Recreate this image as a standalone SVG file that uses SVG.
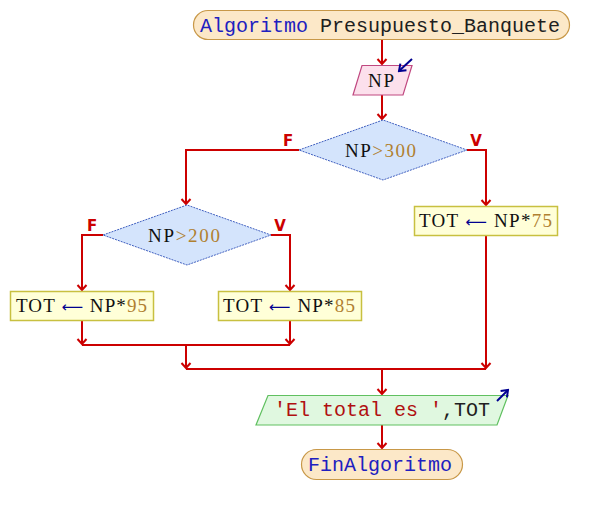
<svg xmlns="http://www.w3.org/2000/svg" width="596" height="515" viewBox="0 0 596 515">
<style>
.term{fill:#fce8c8;stroke:#c89848;stroke-width:1.2}
.inp{fill:#fce0ec;stroke:#c04880;stroke-width:1.2}
.dec{fill:#d4e4fc;stroke:#4060c0;stroke-width:1;stroke-dasharray:2 1}
.box{fill:#ffffd8;stroke:#c8c040;stroke-width:1.5}
.out{fill:#e0f8e0;stroke:#60c060;stroke-width:1.2}
.mono{font-family:"Liberation Mono","DejaVu Sans Mono",monospace;font-size:20px;fill:#202020}
.ser{font-family:"Liberation Serif","DejaVu Serif",serif;font-size:19px;fill:#101010}
.kw{fill:#2020c0}
.num{fill:#b08030}
.asg{fill:#000090;font-family:"DejaVu Sans",sans-serif;font-size:15px}
.str{fill:#b01010}
.lbl{font-family:"DejaVu Sans","Liberation Sans",sans-serif;font-size:15px;font-weight:bold;fill:#cc0000;text-anchor:middle}
.ln{fill:none;stroke:#cc0000;stroke-width:2}
.icon{fill:none;stroke:#000090;stroke-width:2}
</style>
<defs>
<marker id="ah" markerUnits="userSpaceOnUse" viewBox="-8 -6 10 12" refX="0" refY="0" markerWidth="10" markerHeight="12" orient="auto">
<path d="M-5,-4.5 L0,0 L-5,4.5" fill="none" stroke="#cc0000" stroke-width="2"/>
</marker>
<marker id="bh" markerUnits="userSpaceOnUse" viewBox="-8 -6 10 12" refX="0" refY="0" markerWidth="10" markerHeight="12" orient="auto">
<path d="M-6,-4.5 L0,0 L-6,4.5" fill="none" stroke="#000090" stroke-width="2"/>
</marker>
</defs>
<g id="connectors">
<path class="ln" d="M382,40 V64" marker-end="url(#ah)"/>
<path class="ln" d="M382,95 V119" marker-end="url(#ah)"/>
<path class="ln" d="M299,150 H186 V204" marker-end="url(#ah)"/>
<path class="ln" d="M467,150 H486 V205" marker-end="url(#ah)"/>
<path class="ln" d="M103,235 H82 V290" marker-end="url(#ah)"/>
<path class="ln" d="M271,235 H290 V290" marker-end="url(#ah)"/>
<path class="ln" d="M82,321 V344" marker-end="url(#ah)"/>
<path class="ln" d="M290,321 V344" marker-end="url(#ah)"/>
<path class="ln" d="M82,345 H290"/>
<path class="ln" d="M186,345 V368" marker-end="url(#ah)"/>
<path class="ln" d="M486,235 V368" marker-end="url(#ah)"/>
<path class="ln" d="M186,369 H486"/>
<path class="ln" d="M382,369 V394" marker-end="url(#ah)"/>
<path class="ln" d="M382,425 V448" marker-end="url(#ah)"/>
<text class="lbl" x="288" y="146">F</text>
<text class="lbl" x="476" y="146">V</text>
<text class="lbl" x="92" y="231">F</text>
<text class="lbl" x="280" y="231">V</text>
</g>
<g id="start">
<rect class="term" x="193.5" y="10.5" width="376" height="29" rx="14.5"/>
<text class="mono" x="200" y="32"><tspan class="kw">Algoritmo</tspan> Presupuesto_Banquete</text>
</g>
<g id="read">
<polygon class="inp" points="362,65.5 412,65.5 403,95 353,95"/>
<text class="ser" x="368" y="87" textLength="26">NP</text>
<path class="icon" d="M412,59 L399,71" marker-end="url(#bh)"/>
</g>
<g id="cond300">
<polygon class="dec" points="299,150 383,120 467,150 383,180"/>
<text class="ser" x="345" y="157" textLength="71">NP<tspan class="num">&gt;300</tspan></text>
</g>
<g id="tot75">
<rect class="box" x="414.5" y="206.5" width="143" height="29"/>
<text class="ser" x="419" y="227" textLength="133">TOT <tspan class="asg">⟵</tspan> NP*<tspan class="num">75</tspan></text>
</g>
<g id="cond200">
<polygon class="dec" points="103,235 187,205 271,235 187,265"/>
<text class="ser" x="148" y="242" textLength="72">NP<tspan class="num">&gt;200</tspan></text>
</g>
<g id="tot95">
<rect class="box" x="10.5" y="291.5" width="143" height="29"/>
<text class="ser" x="16" y="312" textLength="131">TOT <tspan class="asg">⟵</tspan> NP*<tspan class="num">95</tspan></text>
</g>
<g id="tot85">
<rect class="box" x="218.5" y="291.5" width="143" height="29"/>
<text class="ser" x="223" y="312" textLength="132">TOT <tspan class="asg">⟵</tspan> NP*<tspan class="num">85</tspan></text>
</g>
<g id="write">
<polygon class="out" points="268,395.5 508,395.5 497,425 256,425"/>
<text class="mono" x="274" y="416"><tspan class="str">'El total es '</tspan>,TOT</text>
<path class="icon" d="M497,401 L508,390" marker-end="url(#bh)"/>
</g>
<g id="end">
<rect class="term" x="301.5" y="449.5" width="161" height="30" rx="15"/>
<text class="mono" x="308" y="471"><tspan class="kw">FinAlgoritmo</tspan></text>
</g>
</svg>
